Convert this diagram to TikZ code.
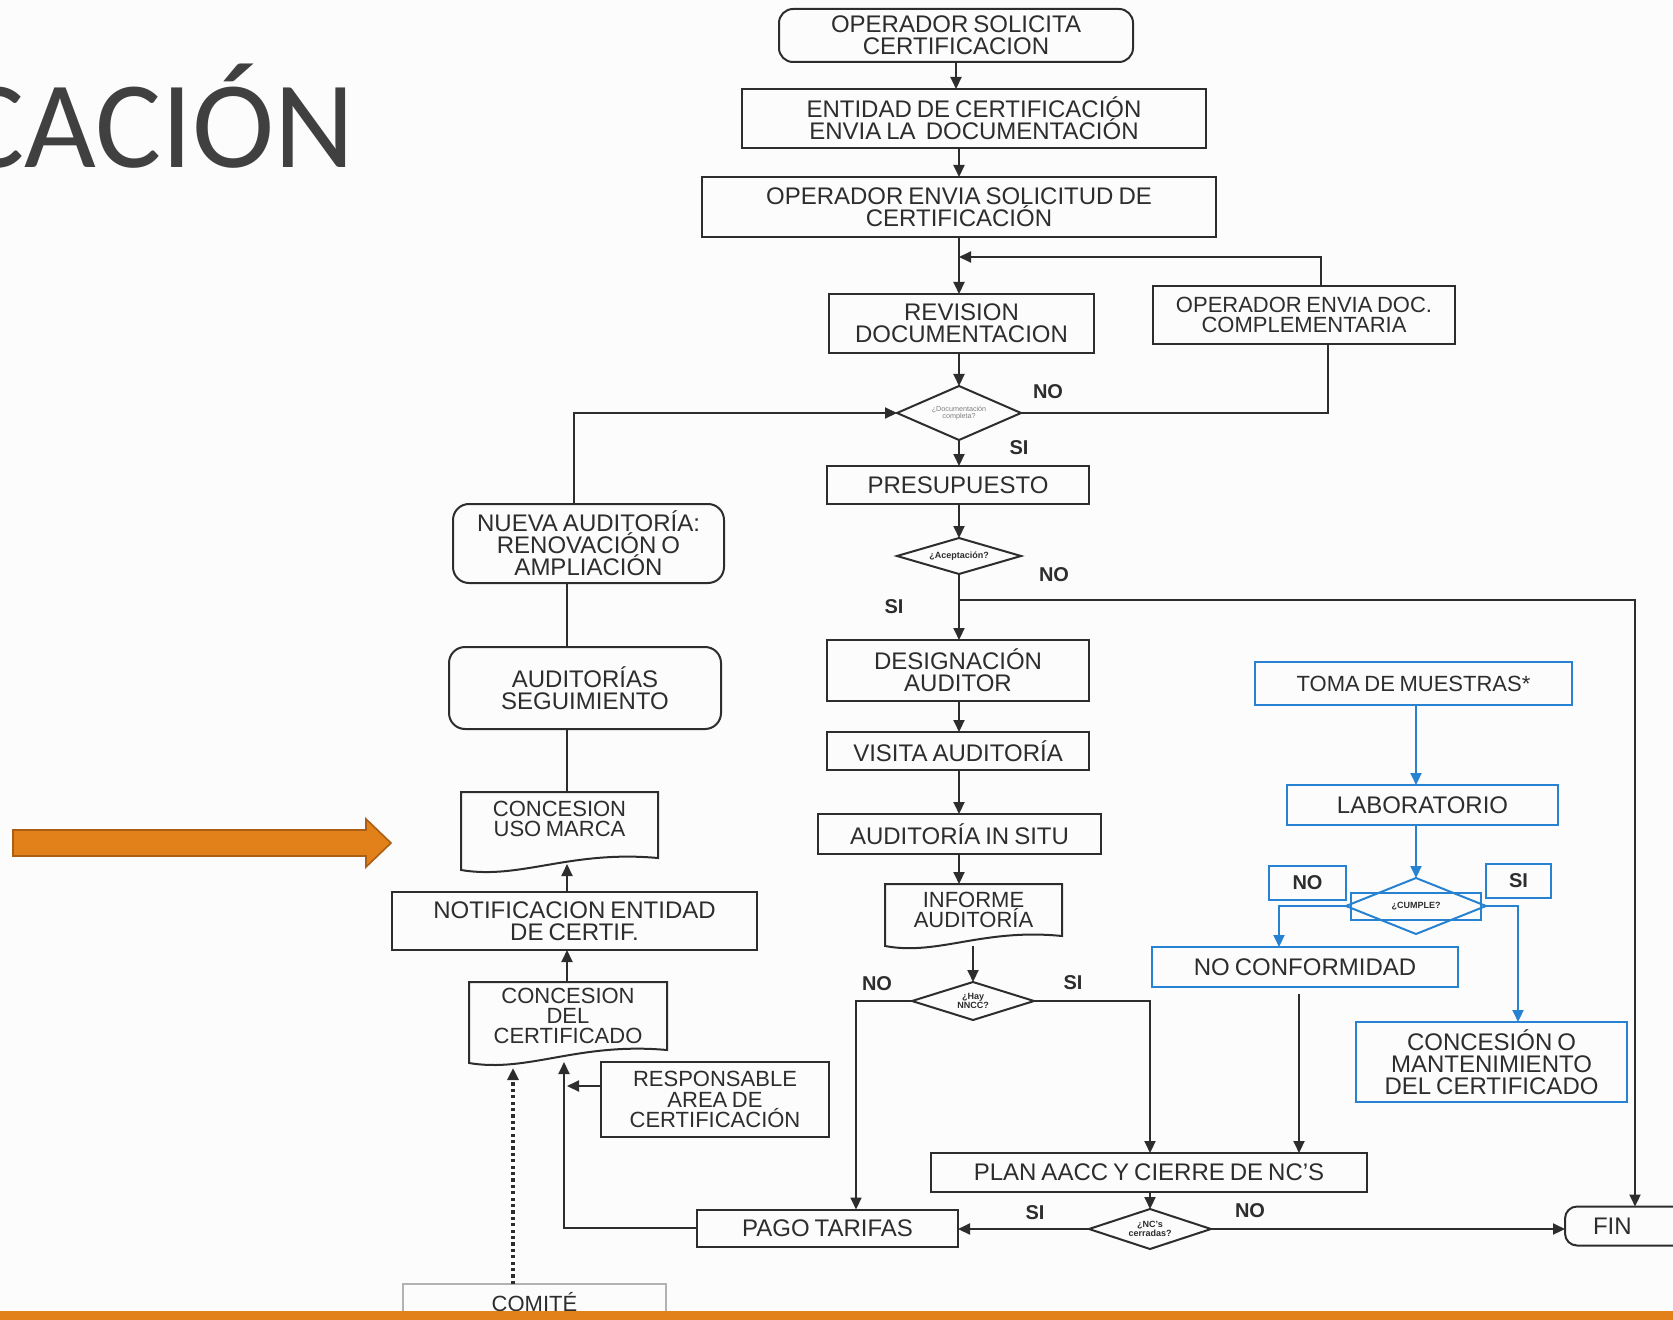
\documentclass[tikz,border=0pt]{standalone}
\usepackage{fontspec}
\setmainfont{Liberation Sans}[WordSpace=0.75]
\newfontfamily\ttlfamily{Carlito}
\usetikzlibrary{arrows.meta,shapes.geometric,calc}
\definecolor{ln}{RGB}{45,45,45}
\definecolor{blu}{RGB}{40,130,210}
\definecolor{org}{RGB}{226,128,26}
\definecolor{orgd}{RGB}{170,95,20}
\definecolor{ttl}{RGB}{64,64,64}
\definecolor{bgc}{RGB}{252,252,252}
\newcommand\boxfnt{\fontsize{12}{11}\selectfont}
\newcommand\smlfnt{\fontsize{11}{10.2}\selectfont}
\newcommand\lblfnt{\bfseries\fontsize{10}{10}\selectfont}
\newcommand\diafnt{\bfseries\fontsize{4.5}{4.5}\selectfont}
\newcommand\docbox[3]{\draw[con] ($(#1.south east)+(0,#3)$) -- (#1.north east) -- (#1.north west) -- ($(#1.south west)+(0,#2)$) .. controls ($(#1.south west)!0.3!(#1.south east)+(0,#2+10)$) and ($(#1.south west)!0.55!(#1.south east)+(0,#3-8)$) .. ($(#1.south east)+(0,#3)$) -- cycle;}
\tikzset{
  box/.style={draw=ln, line width=1pt, inner sep=0pt, outer sep=0pt, font=\boxfnt, align=center, text=ln},
  rbox/.style={box, rounded corners=6pt},
  bbox/.style={box, draw=blu},
  dia/.style={diamond, shape aspect=3, draw=ln, line width=1pt, inner sep=0pt, outer sep=0pt, align=center, text=ln, font=\diafnt},
  docn/.style={inner sep=0pt, outer sep=0pt, font=\boxfnt, align=center, text=ln},
  con/.style={draw=ln, line width=1pt},
  arr/.style={con, -{Triangle[length=6pt,width=5.5pt]}},
  barr/.style={draw=blu, line width=1pt, -{Triangle[length=6pt,width=5.5pt]}},
  lbl/.style={font=\lblfnt, text=ln},
}
\begin{document}
\begin{tikzpicture}[x=0.5pt,y=-0.5pt]
\fill[bgc] (0,0) rectangle (1673,1320);
\useasboundingbox (0,0) rectangle (1673,1320);

% title
\node[anchor=base east, font=\ttlfamily\fontsize{62}{62}\selectfont, text=ttl, inner sep=0pt] (title) at (355,168) {CACIÓN};

% main column
\node[rbox, rounded corners=7pt, minimum width=177pt, minimum height=26.5pt] (op1) at (956,35.5) {OPERADOR SOLICITA\\CERTIFICACION};
\node[box, minimum width=232pt, minimum height=29.5pt] (ent) at (974,118.5) {ENTIDAD DE CERTIFICACIÓN\\ENVIA LA\ \ DOCUMENTACIÓN};
\node[box, minimum width=257pt, minimum height=30pt] (op2) at (959,207) {OPERADOR ENVIA SOLICITUD DE\\CERTIFICACIÓN};
\node[box, minimum width=132.5pt, minimum height=29.5pt] (rev) at (961.5,323.5) {REVISION\\DOCUMENTACION};
\node[box, font=\smlfnt, minimum width=151pt, minimum height=29pt] (compl) at (1304,315) {OPERADOR ENVIA DOC.\\COMPLEMENTARIA};
\node[dia, font=\fontsize{3.6}{3.8}\selectfont, text=gray, minimum width=62pt, minimum height=27pt] (d1) at (959,413) {¿Documentación\\completa?};
\node[box, minimum width=131pt, minimum height=19pt] (pres) at (958,485) {PRESUPUESTO};
\node[dia, minimum width=62pt, minimum height=18pt] (d2) at (959,556) {¿Aceptación?};
\node[box, minimum width=131pt, minimum height=30.5pt] (des) at (958,670.5) {DESIGNACIÓN\\AUDITOR};
\node[box, minimum width=131pt, minimum height=19pt] (vis) at (958,751) {VISITA AUDITORÍA};
\node[box, minimum width=141.5pt, minimum height=20pt] (situ) at (959.5,834) {AUDITORÍA IN SITU};
\node[docn, font=\smlfnt, minimum width=88.5pt, minimum height=26pt] (inf) at (973.5,910) {INFORME\\AUDITORÍA};
\docbox{inf}{10}{0}
\node[dia, minimum width=61pt, minimum height=19pt] (d3) at (973,1001) {¿Hay\\NNCC?};
\node[box, minimum width=218pt, minimum height=19.5pt] (plan) at (1149,1172.5) {PLAN AACC Y CIERRE DE NC'S};
\node[dia, minimum width=61pt, minimum height=20pt] (d4) at (1150,1229) {¿NC's\\cerradas?};
\node[box, minimum width=130.5pt, minimum height=18.5pt] (pago) at (827.5,1228) {PAGO TARIFAS};
\node[rbox, anchor=west, minimum height=19.5pt, text width=60pt, align=left, inner xsep=14pt] (fin) at (1565,1226) {FIN};

% left column
\node[rbox, rounded corners=8pt, minimum width=135.5pt, minimum height=39.5pt] (nueva) at (588.5,543.5) {NUEVA AUDITORÍA:\\RENOVACIÓN O\\AMPLIACIÓN};
\node[rbox, rounded corners=8pt, minimum width=136pt, minimum height=41pt] (seg) at (585,688) {AUDITORÍAS\\SEGUIMIENTO};
\node[docn, font=\smlfnt, minimum width=98.5pt, minimum height=27pt] (uso) at (559.5,819) {CONCESION\\USO MARCA};
\docbox{uso}{24}{12}
\node[box, minimum width=182.5pt, minimum height=29pt] (notif) at (574.5,921) {NOTIFICACION ENTIDAD\\DE CERTIF.};
\node[docn, font=\smlfnt, minimum width=99pt, minimum height=34pt] (cdc) at (568,1016) {CONCESION\\DEL\\CERTIFICADO};
\docbox{cdc}{13}{0}
\node[box, font=\smlfnt, minimum width=114pt, minimum height=37.5pt] (resp) at (715,1099.5) {RESPONSABLE\\AREA DE\\CERTIFICACIÓN};
\node[box, draw=gray!60, font=\smlfnt, minimum width=131.5pt, minimum height=18pt] (comite) at (534.5,1302) {COMITÉ};

% blue group
\node[bbox, font=\smlfnt, minimum width=158.5pt, minimum height=21.5pt] (toma) at (1413.5,683.5) {TOMA DE MUESTRAS*};
\node[bbox, minimum width=135.5pt, minimum height=20pt] (lab) at (1422.5,805) {LABORATORIO};
\node[dia, draw=blu, minimum width=70pt, minimum height=28pt] (d5) at (1416,906) {};
\node[bbox, font=\diafnt, minimum width=65pt, minimum height=13.5pt] (d5t) at (1416,906.5) {¿CUMPLE?};
\node[bbox, font=\lblfnt, minimum width=38.5pt, minimum height=17pt] (nob) at (1307.5,883) {NO};
\node[bbox, font=\lblfnt, minimum width=32.5pt, minimum height=17pt] (sib) at (1518.5,881) {SI};
\node[bbox, minimum width=153pt, minimum height=20pt] (ncf) at (1305,967) {NO CONFORMIDAD};
\node[bbox, minimum width=135.5pt, minimum height=40pt] (conc) at (1491.5,1062) {CONCESIÓN O\\MANTENIMIENTO\\DEL CERTIFICADO};

% labels
\node[lbl] (l1) at (1048,392) {NO};
\node[lbl] (l2) at (1019,448) {SI};
\node[lbl] (l3) at (1054,575) {NO};
\node[lbl] (l4) at (894,607) {SI};
\node[lbl] (l5) at (877,984) {NO};
\node[lbl] (l6) at (1073,983) {SI};
\node[lbl] (l7) at (1035,1213) {SI};
\node[lbl] (l8) at (1250,1211) {NO};

% helper coordinates
\coordinate (mc) at (959,0);
\coordinate (lp) at (1321,257);
\coordinate (cr) at (1328,0);
\coordinate (cl) at (574,0);
\coordinate (br) at (959,600);
\coordinate (fx) at (1635,0);
\coordinate (ia) at (973,946);
\coordinate (nl) at (856,0);
\coordinate (nr) at (1150,0);
\coordinate (nc) at (1299,994);
\coordinate (lc) at (567,0);
\coordinate (usob) at (567,864);
\coordinate (cdcb) at (564,1062);
\coordinate (ra) at (567,1086);
\coordinate (ct) at (513,1068);
\coordinate (bx) at (1416,0);
\coordinate (bl) at (1279,0);
\coordinate (bri) at (1518,0);

% connectors main
\draw[arr] (op1.south) -- (op1.south |- ent.north);
\draw[arr] (ent.south -| mc) -- (op2.north -| mc);
\draw[arr] (op2.south -| mc) -- (rev.north -| mc);
\draw[arr] (lp |- compl.north) -- (lp) -- (lp -| mc);
\draw[arr] (rev.south -| mc) -- (d1.north);
\draw[con] (d1.east) -- (d1.east -| cr) -- (compl.south -| cr);
\draw[arr] (nueva.north -| cl) -- (cl |- d1.west) -- (d1.west);
\draw[arr] (d1.south) -- (pres.north -| mc);
\draw[arr] (pres.south -| mc) -- (d2.north);
\draw[arr] (d2.south) -- (des.north -| mc);
\draw[arr] (br) -- (br -| fx) -- (fin.north -| fx);
\draw[arr] (des.south -| mc) -- (vis.north -| mc);
\draw[arr] (vis.south -| mc) -- (situ.north -| mc);
\draw[arr] (situ.south -| mc) -- (inf.north -| mc);
\draw[arr] (ia) -- (ia |- d3.north);
\draw[arr] (d3.west) -- (d3.west -| nl) -- (pago.north -| nl);
\draw[arr] (d3.east) -- (d3.east -| nr) -- (plan.north -| nr);
\draw[arr] (nc) -- (nc |- plan.north);
\draw[arr] (plan.south -| nr) -- (d4.north);
\draw[arr] (d4.west) -- (d4.west -| pago.east);
\draw[arr] (d4.east) -- (d4.east -| fin.west);

% connectors left
\draw[con] (nueva.south -| lc) -- (seg.north -| lc);
\draw[con] (seg.south -| lc) -- (uso.north -| lc);
\draw[arr] (notif.north -| lc) -- (usob);
\draw[arr] (cdc.north -| lc) -- (notif.south -| lc);
\draw[arr] (pago.west) -- (pago.west -| cdcb) -- (cdcb);
\draw[arr] (ra -| resp.west) -- (ra);
\draw[con, line width=1.6pt, dash pattern=on 1.6pt off 1.6pt, -{Triangle[length=6pt,width=5.5pt]}] (ct |- comite.north) -- (ct);

% connectors blue
\draw[barr] (toma.south -| bx) -- (lab.north -| bx);
\draw[barr] (lab.south -| bx) -- (d5.north);
\draw[barr] (d5.west) -- (d5.west -| bl) -- (ncf.north -| bl);
\draw[barr] (d5.east) -- (d5.east -| bri) -- (conc.north -| bri);

% orange arrow and bar
\filldraw[fill=org, draw=orgd, line width=0.8pt] (13,830) -- (366,830) -- (366,819) -- (391,843) -- (366,867) -- (366,856) -- (13,856) -- cycle;
\fill[org] (0,1311) rectangle (1673,1320);
\end{tikzpicture}
\end{document}
